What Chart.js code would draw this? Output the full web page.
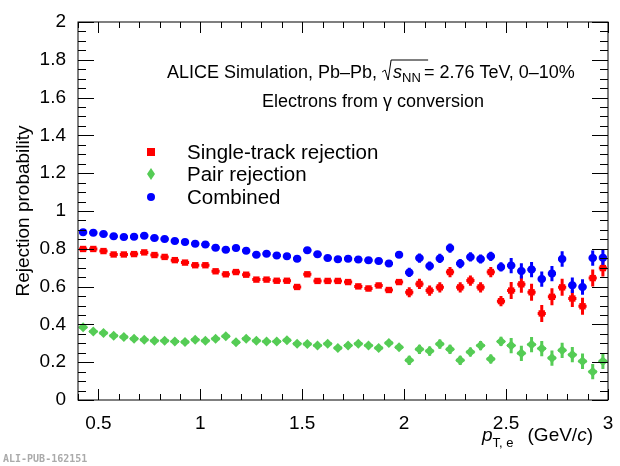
<!DOCTYPE html>
<html>
<head>
<meta charset="utf-8">
<script src="https://cdn.jsdelivr.net/npm/chart.js@4"></script>
<style>
  body { margin: 0; background: #fff; }
  #wrap { width: 620px; height: 466px; position: relative; }
</style>
</head>
<body>
<div id="wrap"><canvas id="chart1" width="620" height="466"></canvas></div>
<script>
// bin centres (GeV/c)
const ptBins = [];
for (let k = 0; k < 52; k++) ptBins.push(+(0.425 + 0.05 * k).toFixed(3));

const singleTrack = [0.799,0.799,0.788,0.770,0.770,0.772,0.781,0.767,0.757,0.740,0.727,0.713,0.713,0.681,0.665,0.677,0.663,0.637,0.637,0.631,0.631,0.598,0.665,0.630,0.630,0.630,
  0.624,0.601,0.590,0.606,0.582,0.624,0.570,0.614,0.579,0.596,0.677,0.596,0.632,0.596,0.677,0.523,0.579,0.612,0.570,0.458,0.546,0.596,0.537,0.496,0.645,0.698];
const pairRej = [0.385,0.363,0.354,0.340,0.333,0.324,0.319,0.314,0.314,0.310,0.307,0.319,0.314,0.324,0.337,0.305,0.324,0.314,0.310,0.310,0.316,0.298,0.296,0.288,0.298,0.275,
  0.288,0.298,0.289,0.275,0.302,0.279,0.210,0.268,0.259,0.296,0.268,0.210,0.254,0.288,0.217,0.310,0.288,0.247,0.293,0.272,0.222,0.263,0.240,0.205,0.150,0.205];
const combined = [0.887,0.885,0.878,0.867,0.862,0.864,0.869,0.857,0.852,0.841,0.836,0.827,0.823,0.806,0.795,0.804,0.790,0.769,0.774,0.764,0.760,0.748,0.792,0.771,0.751,0.745,
  0.748,0.743,0.739,0.736,0.722,0.768,0.675,0.751,0.709,0.749,0.804,0.722,0.757,0.746,0.760,0.704,0.711,0.683,0.690,0.640,0.669,0.746,0.607,0.598,0.751,0.753];
// statistical errors, growing with pT
const errScale = ptBins.map(p => p < 1.5 ? 0.008 : p < 2.0 ? 0.014 : p < 2.5 ? 0.027 : 0.045);

const yTicks = [0, 0.2, 0.4, 0.6, 0.8, 1, 1.2, 1.4, 1.6, 1.8, 2];
const xTicks = [0.5, 1, 1.5, 2, 2.5, 3];

const mk = (arr) => ptBins.map((x, i) => ({ x: x, y: arr[i] }));
const FONT = '"Liberation Sans", Arial, sans-serif';

const rootFrame = {
  id: 'rootFrame',
  beforeDatasetsDraw(chart) {
    const c = chart.ctx, xs = chart.scales.x, ys = chart.scales.y;
    // error bars
    chart.data.datasets.forEach((ds) => {
      c.save();
      c.strokeStyle = ds.borderColor;
      c.lineWidth = 3;
      ds.data.forEach((p, i) => {
        const e = errScale[i] * ds.errMul;
        const px = xs.getPixelForValue(p.x), py = ys.getPixelForValue(p.y);
        c.beginPath();
        c.moveTo(px, ys.getPixelForValue(p.y - e));
        c.lineTo(px, ys.getPixelForValue(p.y + e));
        c.moveTo(xs.getPixelForValue(p.x - 0.02), py);
        c.lineTo(xs.getPixelForValue(p.x + 0.02), py);
        c.stroke();
      });
      c.restore();
    });
  },
  afterDraw(chart) {
    const c = chart.ctx, a = chart.chartArea, xs = chart.scales.x, ys = chart.scales.y;
    c.save();
    c.strokeStyle = '#000';
    c.lineWidth = 1;
    c.strokeRect(a.left, a.top, a.right - a.left, a.bottom - a.top);
    c.beginPath();
    for (let v = 0; v <= 2.0001; v += 0.05) {
      const y = Math.round(ys.getPixelForValue(v)) + 0.5;
      const major = Math.abs(v / 0.2 - Math.round(v / 0.2)) < 1e-6;
      const L = major ? 16 : 8;
      c.moveTo(a.left, y); c.lineTo(a.left + L, y);
      c.moveTo(a.right, y); c.lineTo(a.right - L, y);
    }
    for (let v = 0.4; v <= 3.0001; v += 0.1) {
      const x = Math.round(xs.getPixelForValue(v)) + 0.5;
      const major = Math.abs(v / 0.5 - Math.round(v / 0.5)) < 1e-6;
      const L = major ? 11 : 6;
      c.moveTo(x, a.bottom); c.lineTo(x, a.bottom - L);
      c.moveTo(x, a.top); c.lineTo(x, a.top + L);
    }
    c.stroke();

    // axis titles
    c.fillStyle = '#000';
    c.save();
    c.translate(24, 211);
    c.rotate(-Math.PI / 2);
    c.font = '19px ' + FONT;
    c.textAlign = 'center';
    c.textBaseline = 'middle';
    c.fillText('Rejection probability', 0, 0);
    c.restore();

    c.textBaseline = 'alphabetic';
    c.textAlign = 'left';
    let x = 482;
    c.font = 'italic 19px ' + FONT;
    c.fillText('p', x, 441); x += c.measureText('p').width;
    c.font = '13px ' + FONT;
    c.fillText('T, e', x, 447); x += c.measureText('T, e').width + 14;
    c.font = '19px ' + FONT;
    c.fillText('(GeV/', x, 441); x += c.measureText('(GeV/').width;
    c.font = 'italic 19px ' + FONT;
    c.fillText('c', x, 441); x += c.measureText('c').width;
    c.font = '19px ' + FONT;
    c.fillText(')', x, 441);

    // annotation line 1
    x = 167;
    const base = 78;
    c.font = '18px ' + FONT;
    c.fillText('ALICE Simulation, Pb\u2013Pb, ', x, base); x += c.measureText('ALICE Simulation, Pb\u2013Pb, ').width;
    c.beginPath();
    c.moveTo(x, base - 6); c.lineTo(x + 3, base - 8); c.lineTo(x + 6, base + 2); c.lineTo(x + 9, base - 18); c.lineTo(x + 46, base - 18);
    c.stroke();
    x += 11;
    c.font = 'italic 18px ' + FONT;
    c.fillText('s', x, base); x += c.measureText('s').width;
    c.font = '13px ' + FONT;
    c.fillText('NN', x, base + 4); x += c.measureText('NN').width + 3;
    c.font = '18px ' + FONT;
    c.fillText('= 2.76 TeV, 0\u201310%', x, base);
    c.textAlign = 'center';
    c.fillText('Electrons from \u03b3 conversion', 373, 107);

    // legend
    c.textAlign = 'left';
    c.font = '20.5px ' + FONT;
    const leg = [['Single-track rejection', 152], ['Pair rejection', 174], ['Combined', 197]];
    chart.data.datasets.forEach((ds, i) => {
      const ly = leg[i][1];
      c.fillStyle = ds.backgroundColor;
      c.beginPath();
      if (ds.pointStyle === 'rect') c.rect(147, ly - 4, 8, 8);
      else if (ds.pointStyle === 'rectRot') { c.moveTo(151, ly - 6); c.lineTo(155, ly); c.lineTo(151, ly + 6); c.lineTo(147, ly); c.closePath(); }
      else c.arc(151, ly, 4, 0, Math.PI * 2);
      c.fill();
      c.fillStyle = '#000';
      c.fillText(leg[i][0], 187, ly + 7);
    });

    c.fillStyle = '#aaa';
    c.font = 'bold 10px "DejaVu Sans Mono", monospace';
    c.fillText('ALI-PUB-162151', 3, 462);
    c.restore();
  }
};

new Chart(document.getElementById('chart1'), {
  type: 'scatter',
  data: {
    datasets: [
      { label: 'Single-track rejection', data: mk(singleTrack), pointStyle: 'rect', pointRadius: 4.5,
        backgroundColor: '#ff0000', borderColor: '#ff0000', borderWidth: 0, errMul: 1.0 },
      { label: 'Pair rejection', data: mk(pairRej), pointStyle: 'rectRot', pointRadius: 5,
        backgroundColor: '#55cc55', borderColor: '#55cc55', borderWidth: 0, errMul: 0.9 },
      { label: 'Combined', data: mk(combined), pointStyle: 'circle', pointRadius: 4,
        backgroundColor: '#0000ff', borderColor: '#0000ff', borderWidth: 0, errMul: 0.9 }
    ]
  },
  options: {
    responsive: false,
    animation: false,
    events: [],
    layout: { padding: { top: 22, right: 12, left: 0, bottom: 0 } },
    plugins: { legend: { display: false }, tooltip: { enabled: false } },
    scales: {
      x: {
        type: 'linear', min: 0.4, max: 3.0,
        afterFit: (s) => { s.height = 66; },
        afterBuildTicks: (s) => { s.ticks = xTicks.map(v => ({ value: v })); },
        grid: { display: false },
        border: { display: false },
        ticks: { color: '#000', padding: 4, font: { size: 19, family: FONT },
                 callback: (v) => String(v), maxRotation: 0 }
      },
      y: {
        min: 0, max: 2,
        afterFit: (s) => { s.width = 78; },
        afterBuildTicks: (s) => { s.ticks = yTicks.map(v => ({ value: v })); },
        grid: { display: false },
        border: { display: false },
        ticks: { color: '#000', padding: 4, font: { size: 19, family: FONT },
                 callback: (v) => String(v) }
      }
    }
  },
  plugins: [rootFrame]
});
</script>
</body>
</html>
